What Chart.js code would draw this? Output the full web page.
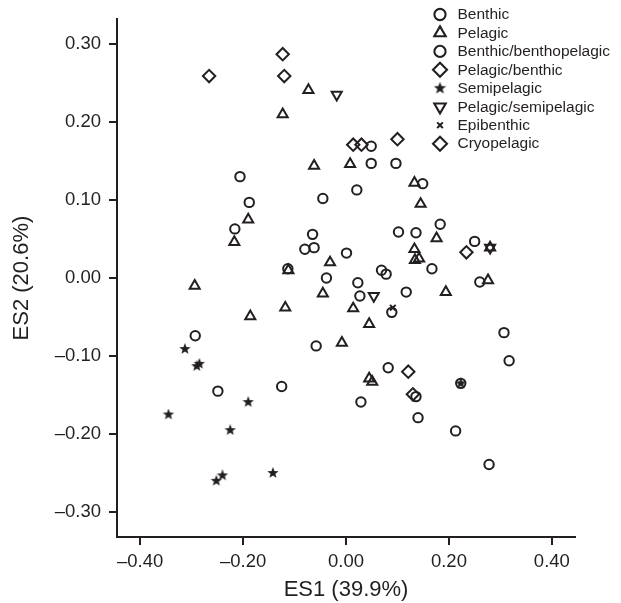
<!DOCTYPE html>
<html>
<head>
<meta charset="utf-8">
<script src="https://cdn.jsdelivr.net/npm/chart.js@4.4.1/dist/chart.umd.min.js"></script>
<style>
  html, body { margin: 0; padding: 0; background: #fff; }
</style>
</head>
<body>
<canvas id="chart" width="621" height="603"></canvas>
<script>
// ES1 / ES2 scores per life-habit group
const categories = ['Benthic', 'Pelagic', 'Benthic/benthopelagic', 'Pelagic/benthic',
  'Semipelagic', 'Pelagic/semipelagic', 'Epibenthic', 'Cryopelagic'];

const benthicX = [-0.206, 0.021, 0.049, 0.049, 0.097, -0.045, -0.188, -0.216, -0.065, -0.080, -0.062, 0.001,
  -0.113, -0.038, 0.023, 0.027, -0.293, -0.058, -0.249, -0.125, 0.069, 0.078, 0.082, 0.029];
const benthicY = [0.130, 0.113, 0.169, 0.147, 0.147, 0.102, 0.097, 0.063, 0.056, 0.037, 0.039, 0.032,
  0.012, 0.000, -0.006, -0.023, -0.074, -0.087, -0.145, -0.139, 0.010, 0.005, -0.115, -0.159];

const pelagicX = [-0.073, -0.123, -0.062, 0.008, 0.133, 0.145, -0.190, 0.176, -0.217, 0.133, 0.134, 0.142,
  -0.031, -0.112, -0.294, 0.276, 0.280, -0.045, 0.194, 0.014, -0.118, -0.186, 0.045, -0.008, 0.045, 0.051];
const pelagicY = [0.241, 0.210, 0.144, 0.146, 0.122, 0.095, 0.075, 0.051, 0.046, 0.037, 0.023, 0.025,
  0.020, 0.010, -0.010, -0.003, 0.039, -0.020, -0.018, -0.039, -0.038, -0.049, -0.059, -0.083, -0.129, -0.133];

const benthopelagicX = [0.149, 0.183, 0.102, 0.136, 0.167, 0.250, 0.260, 0.117, 0.089, 0.307, 0.317,
  0.223, 0.136, 0.140, 0.213, 0.278];
const benthopelagicY = [0.121, 0.069, 0.059, 0.058, 0.012, 0.047, -0.005, -0.018, -0.044, -0.070, -0.106,
  -0.135, -0.152, -0.179, -0.196, -0.239];

const pelagicBenthicX = [-0.266, -0.123, -0.120, 0.100, 0.121];
const pelagicBenthicY = [0.259, 0.287, 0.259, 0.178, -0.120];

const semipelagicX = [-0.313, -0.290, -0.285, -0.345, -0.190, -0.225, -0.252, -0.240, -0.142, 0.223];
const semipelagicY = [-0.091, -0.113, -0.110, -0.175, -0.159, -0.195, -0.260, -0.253, -0.250, -0.135];

const pelSemiX = [-0.018, 0.054, 0.280];
const pelSemiY = [0.235, -0.023, 0.039];

const epibenthicX = [0.091];
const epibenthicY = [-0.038];

const cryopelagicX = [0.014, 0.030, 0.234, 0.130];
const cryopelagicY = [0.171, 0.171, 0.033, -0.149];

const xTicks = [-0.4, -0.2, 0, 0.2, 0.4];
const yTicks = [-0.3, -0.2, -0.1, 0, 0.1, 0.2, 0.3];

const INK = '#231f20';
const FONT = '"Liberation Sans", Arial, Helvetica, sans-serif';

function makeStar(size) {
  const c = document.createElement('canvas');
  c.width = c.height = size;
  const g = c.getContext('2d');
  const R = size / 2, r = R * 0.42;
  g.beginPath();
  for (let k = 0; k < 10; k++) {
    const a = -Math.PI / 2 + k * Math.PI / 5;
    const rad = k % 2 ? r : R;
    g.lineTo(R + rad * Math.cos(a), R + rad * Math.sin(a));
  }
  g.closePath();
  g.fillStyle = INK;
  g.fill();
  return c;
}
const starImg = makeStar(12);
const legendStar = makeStar(13);

function pts(xs, ys) {
  return xs.map((x, i) => ({ x: x, y: ys[i] }));
}

function fmt(v) {
  const s = Math.abs(v).toFixed(2);
  return v < -1e-9 ? '\u2013' + s : s;
}

function series(label, xs, ys, style, radius, extra) {
  return Object.assign({
    label: label,
    data: pts(xs, ys),
    pointStyle: style,
    pointRadius: radius,
    pointBorderWidth: 2,
    pointBorderColor: INK,
    pointBackgroundColor: 'rgba(0,0,0,0)',
    showLine: false
  }, extra || {});
}

const datasets = [
  series(categories[0], benthicX, benthicY, 'circle', 4.7),
  series(categories[1], pelagicX, pelagicY, 'triangle', 5.8),
  series(categories[2], benthopelagicX, benthopelagicY, 'circle', 4.7),
  series(categories[3], pelagicBenthicX, pelagicBenthicY, 'rectRot', 6.2),
  series(categories[4], semipelagicX, semipelagicY, starImg, 5),
  series(categories[5], pelSemiX, pelSemiY, 'triangle', 5.8, { pointRotation: 180 }),
  series(categories[6], epibenthicX, epibenthicY, 'crossRot', 4),
  series(categories[7], cryopelagicX, cryopelagicY, 'rectRot', 6.2)
];

// legend sits inside the plot, top right, drawn by hand
const legendRadius = [5.6, 6.6, 5.6, 7, 5.5, 6.6, 4, 7];
const cornerLegend = {
  id: 'cornerLegend',
  afterDraw(chart) {
    const ctx = chart.ctx;
    ctx.save();
    chart.data.datasets.forEach((ds, i) => {
      const y = 14.5 + i * 18.45;
      ctx.strokeStyle = INK;
      ctx.fillStyle = 'rgba(0,0,0,0)';
      ctx.lineWidth = 2.1;
      Chart.helpers.drawPoint(ctx, {
        pointStyle: ds.pointStyle === starImg ? legendStar : ds.pointStyle,
        rotation: ds.pointRotation || 0,
        radius: legendRadius[i],
        borderWidth: 2.1
      }, 440, y);
      ctx.fillStyle = INK;
      ctx.font = '15.5px ' + FONT;
      ctx.textBaseline = 'middle';
      ctx.textAlign = 'left';
      ctx.fillText(ds.label, 457.5, y + 0.5);
    });
    ctx.restore();
  }
};

new Chart(document.getElementById('chart'), {
  type: 'scatter',
  data: { datasets: datasets },
  plugins: [cornerLegend],
  options: {
    responsive: false,
    animation: false,
    layout: { padding: { left: 0, right: 46, top: 19, bottom: 0 } },
    plugins: { legend: { display: false }, tooltip: { enabled: false } },
    scales: {
      x: {
        type: 'linear',
        min: -0.445,
        max: 0.445,
        afterBuildTicks: s => { s.ticks = xTicks.map(v => ({ value: v })); },
        afterFit: s => { s.height = 66; },
        border: { display: true, color: INK, width: 2 },
        grid: { display: true, drawOnChartArea: false, drawTicks: true, tickLength: 8, color: INK, lineWidth: 2 },
        ticks: { color: INK, font: { family: FONT, size: 18.5 }, padding: 6, maxRotation: 0, callback: fmt },
        title: { display: true, text: 'ES1 (39.9%)', color: INK, font: { family: FONT, size: 22 }, padding: 0 }
      },
      y: {
        type: 'linear',
        min: -0.332,
        max: 0.332,
        afterBuildTicks: s => { s.ticks = yTicks.map(v => ({ value: v })); },
        afterFit: s => { s.width = 117; },
        border: { display: true, color: INK, width: 2 },
        grid: { display: true, drawOnChartArea: false, drawTicks: true, tickLength: 8, color: INK, lineWidth: 2 },
        ticks: { color: INK, font: { family: FONT, size: 18.5 }, padding: 8, callback: fmt },
        title: { display: true, text: 'ES2 (20.6%)', color: INK, font: { family: FONT, size: 22 }, padding: { top: 9, bottom: 0 } }
      }
    }
  }
});
</script>
</body>
</html>
